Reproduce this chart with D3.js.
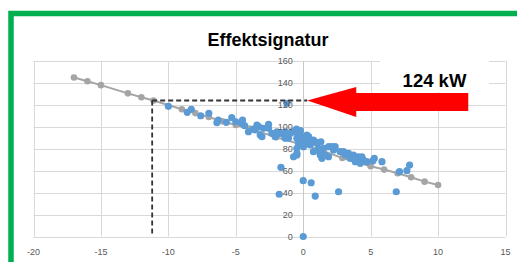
<!DOCTYPE html>
<html><head><meta charset="utf-8">
<script src="https://cdn.jsdelivr.net/npm/d3@7"></script>
<style>html,body{margin:0;padding:0;background:#fff;overflow:hidden}</style>
</head><body>
<svg id="c" width="517" height="262"></svg>
<script>
const title = "Effektsignatur";
const xTicks = [-20,-15,-10,-5,0,5,10,15];
const yTicks = [0,20,40,60,80,100,120,140,160];
// gray reference line (signature)
const refTemp  = [-17,-16,-15,-13,-12,-11.1,-9,-8,-7,-6,-5,-4,-2,1.4,2.9,5,6,7,8,9,10];
const refPower = [145,141.5,138,130.5,127,124,116,112.5,109,105,101.6,98.5,90.5,78.5,71.5,64,61,57.6,54,50,47];
// blue measured points
const measTemp = [-10,-8.6,-8.3,-7.6,-7,-6.3,-6.4,-5.7,-5.3,-5,-4.5,-4.55,-4.35,-4.06,-3.7,-3.56,-3.3,-3.43,-3.06,-3.19,-2.95,-2.57,-2.57,-2.32,-2.08,-1.95,-1.76,-1.46,-1.34,-1.34,-0.96,-1.09,-0.84,-0.59,-0.47,-0.35,-0.1,0.02,-0.47,-0.72,-0.47,-0.47,0.27,0.52,0.89,1.13,0.76,0.27,0.65,1.02,1.31,1.26,1.26,1.39,1.51,1.63,1.88,1.88,2.13,2.25,2.37,2.74,2.99,3.12,3.36,3.49,3.73,3.86,4.1,4.35,4.47,4.23,4.73,5.27,5.17,5.84,7.14,7.69,7.89,-1.65,0,0.59,-1.78,0.89,2.62,6.9,0,-1.21,-0.2,-0.5,0.1,-0.2,0.4,0.27,0.76];
const measPower = [118.7,113.2,116,110.1,112.3,106.2,103.9,104.1,108.3,104.6,106.2,103.2,101,95.5,98,97.1,100.1,101.6,91,92.5,98.6,98.6,102.3,94.1,91,95.5,94.1,93.2,89.5,95.5,94.1,89.5,95.5,95,89.5,85,86.4,81.9,80.4,72.7,74.3,75.8,86.4,83.4,86.4,80.4,77.3,88,86.4,85,86.4,75.8,74.3,71.3,80.4,74.3,81.9,72.7,81.9,78.9,81.9,77.3,77.3,74.3,75.8,71.3,74.3,68.2,72.7,72.7,69.7,66.7,68.2,71.3,69,68.2,59.1,60,65.2,63.1,50.9,49,38.5,36.9,40.8,40.8,0,121.4,92,98,90,96.5,91,92.5,88];
// dimensioning point
const dimTemp = -11.2, dimPower = 124, dimLabel = "124 kW";

const svg = d3.select("#c");
const x = d3.scaleLinear().domain([-20,15]).range([33.5,505.5]);
const y = d3.scaleLinear().domain([0,160]).range([236.5,61]);

// green frame
svg.append("rect").attr("x",11).attr("y",13.5).attr("width",700).attr("height",400)
  .attr("fill","none").attr("stroke","#00B050").attr("stroke-width",5.5);

// gridlines
const g = svg.append("g");
g.selectAll(".hg").data(yTicks).join("line")
  .attr("x1",x(-20)).attr("x2",x(15)).attr("y1",d=>Math.round(y(d))+0.5).attr("y2",d=>Math.round(y(d))+0.5)
  .attr("stroke","#D9D9D9").attr("stroke-width",1);
g.selectAll(".vg").data(xTicks).join("line")
  .attr("y1",y(0)).attr("y2",y(160)).attr("x1",d=>Math.round(x(d))+0.5).attr("x2",d=>Math.round(x(d))+0.5)
  .attr("stroke",d=>d===0?"#C8C8C8":"#D9D9D9").attr("stroke-width",1);

// reference line
const refData = refTemp.map((t,i)=>[t,refPower[i]]);
svg.append("path").datum(refData)
  .attr("d",d3.line().x(d=>x(d[0])).y(d=>y(d[1])))
  .attr("fill","none").attr("stroke","#A5A5A5").attr("stroke-width",2);
svg.selectAll(".rp").data(refData).join("circle")
  .attr("cx",d=>x(d[0])).attr("cy",d=>y(d[1])).attr("r",3.3).attr("fill","#A5A5A5");

// measured points
const measData = measTemp.map((t,i)=>[t,measPower[i]]);
svg.selectAll(".mp").data(measData).join("circle")
  .attr("cx",d=>x(d[0])).attr("cy",d=>y(d[1])).attr("r",3.6).attr("fill","#5B9BD5");

// dashed lines
svg.append("line").attr("x1",x(dimTemp)).attr("x2",x(0.3)).attr("y1",y(dimPower)).attr("y2",y(dimPower))
  .attr("stroke","#333").attr("stroke-width",1.8).attr("stroke-dasharray","5,3");
svg.append("line").attr("x1",x(dimTemp)).attr("x2",x(dimTemp)).attr("y1",y(dimPower)).attr("y2",y(0))
  .attr("stroke","#333").attr("stroke-width",1.8).attr("stroke-dasharray","5,3");

// label box
svg.append("rect").attr("x",380).attr("y",55).attr("width",109).attr("height",37).attr("fill","#fff");

// arrow
const tx = x(0.3), ty = y(dimPower);
const arrow = [[tx,ty],[tx+49,ty-13.5],[tx+49,ty-7.5],[tx+161,ty-7.5],[tx+161,ty+10.5],[tx+49,ty+10.5],[tx+49,ty+16.5]];
svg.append("polygon").attr("points",arrow.map(p=>p.join(",")).join(" ")).attr("fill","#FF0000");

svg.append("text").attr("x",434.5).attr("y",86.5).attr("text-anchor","middle")
  .attr("font-family","Liberation Sans, Arial, sans-serif").attr("font-weight","bold").attr("font-size",18.5)
  .attr("fill","#000").text(dimLabel);

// axis labels
const lab = svg.append("g").attr("font-family","Liberation Sans, Arial, sans-serif").attr("font-size",9).attr("fill","#595959");
lab.selectAll(".yl").data(yTicks).join("text")
  .attr("x",x(0)-10.5).attr("y",d=>y(d)+3.2).attr("text-anchor","end").text(d=>d);
lab.selectAll(".xl").data(xTicks).join("text")
  .attr("x",d=>x(d)).attr("y",255.3).attr("text-anchor","middle").text(d=>d);

// title
svg.append("text").attr("x",268).attr("y",45.5).attr("text-anchor","middle")
  .attr("font-family","Liberation Sans, Arial, sans-serif").attr("font-weight","bold").attr("font-size",18)
  .attr("fill","#000").text(title);
</script>
</body></html>
